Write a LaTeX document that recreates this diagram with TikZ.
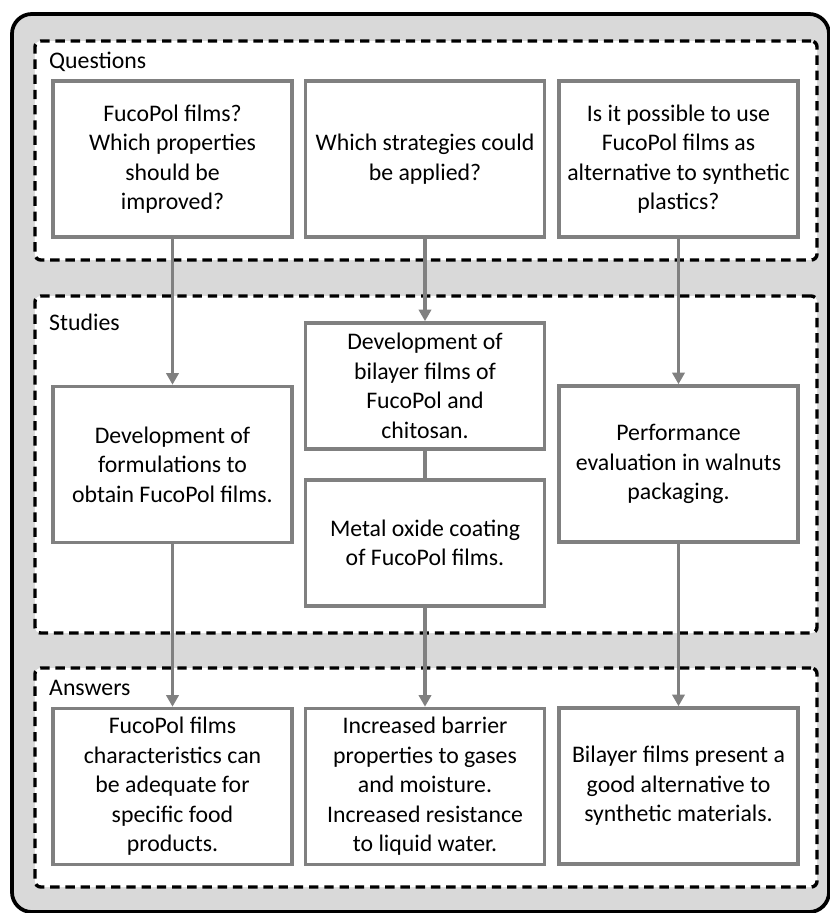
\documentclass[tikz,border=0pt]{standalone}
\usepackage{fontspec}
\setmainfont{Carlito}
\usetikzlibrary{arrows.meta,positioning}
\definecolor{panelgray}{RGB}{217,217,217}
\definecolor{boxgray}{RGB}{128,128,128}
\tikzset{
  frame/.style={draw=black,line width=3.2pt,fill=panelgray,rounded corners=17pt,
                minimum width=24.51cm,minimum height=26.94cm,inner sep=0pt},
  panel/.style={draw=black,line width=2.9pt,fill=white,rounded corners=5pt,
                dash pattern=on 8pt off 5pt,minimum width=23.46cm,inner sep=0pt},
  item/.style={draw=boxgray,line width=3pt,fill=white,align=center,
               minimum width=7.17cm,minimum height=4.68cm,inner sep=2pt,
               font=\fontsize{20.3}{25.2}\selectfont},
  tag/.style={anchor=west,inner sep=0pt,font=\fontsize{20.3}{25.2}\selectfont},
  flow/.style={-{Triangle[length=10pt,width=10.5pt]},draw=boxgray,line width=3pt},
  link/.style={draw=boxgray,line width=3pt},
}
\begin{document}
\begin{tikzpicture}[x=0.03cm,y=-0.03cm]
  \useasboundingbox (0,0) rectangle (829,913);
  \node[frame] (outer) at (420.5,463) {};

  % three stages
  \node[panel,minimum height=6.57cm] (qpanel) at (426,150.5) {};
  \node[panel,minimum height=10.11cm] (spanel) at (426,464.5) {};
  \node[panel,minimum height=6.57cm] (apanel) at (426,777.5) {};
  \node[tag] (qtag) at (49,62) {Questions};
  \node[tag] (stag) at (49,322) {Studies};
  \node[tag] (atag) at (49,688) {Answers};

  % questions
  \node[item] (q1) at (172.5,159)
    {FucoPol films?\\Which properties\\should be\\improved?};
  \node[item] (q2) at (425,159)
    {Which strategies could\\be applied?};
  \node[item] (q3) at (678.5,159)
    {Is it possible to use\\FucoPol films as\\alternative to synthetic\\plastics?};

  % studies
  \node[item] (s1) at (172.5,464.5)
    {Development of\\formulations to\\obtain FucoPol films.};
  \node[item,minimum height=3.78cm] (s2) at (425,386)
    {Development of\\bilayer films of\\FucoPol and\\chitosan.};
  \node[item,minimum height=3.78cm] (s3) at (425,543)
    {Metal oxide coating\\of FucoPol films.};
  \node[item] (s4) at (678.5,464)
    {Performance\\evaluation in walnuts\\packaging.};

  % answers
  \node[item] (a1) at (172.5,786.5)
    {FucoPol films\\characteristics can\\be adequate for\\specific food\\products.};
  \node[item] (a2) at (425,786.5)
    {Increased barrier\\properties to gases\\and moisture.\\Increased resistance\\to liquid water.};
  \node[item] (a3) at (678.5,786)
    {Bilayer films present a\\good alternative to\\synthetic materials.};

  \draw[flow] (q1) -- (s1);
  \draw[flow] (q2) -- (s2);
  \draw[flow] (q3) -- (s4);
  \draw[link] (s2) -- (s3);
  \draw[flow] (s1) -- (a1);
  \draw[flow] (s3) -- (a2);
  \draw[flow] (s4) -- (a3);
\end{tikzpicture}
\end{document}
